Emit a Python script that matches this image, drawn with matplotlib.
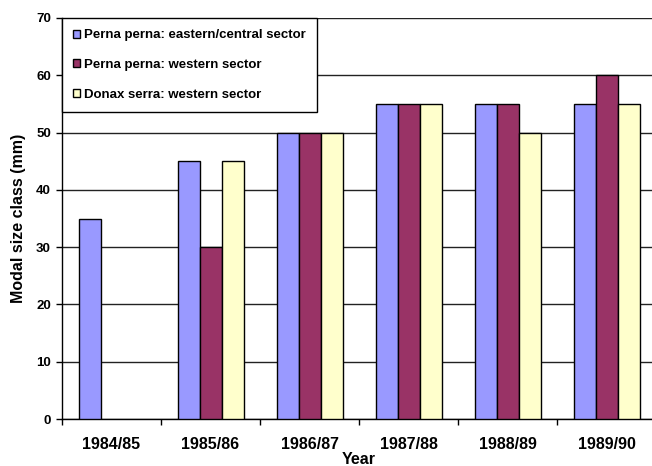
import numpy as np
import matplotlib.pyplot as plt

plt.rcParams['font.family'] = ['Liberation Sans', 'DejaVu Sans']
plt.rcParams['font.weight'] = 'bold'

years = ['1984/85', '1985/86', '1986/87', '1987/88', '1988/89', '1989/90']
# no samples for the western sector in 1984/85
perna_east = [35, 45, 50, 55, 55, 55]
perna_west = [np.nan, 30, 50, 55, 55, 60]
donax_west = [np.nan, 45, 50, 55, 50, 55]

labels = ['Perna perna: eastern/central sector',
          'Perna perna: western sector',
          'Donax serra: western sector']
colors = ['#9999FF', '#993366', '#FFFFCC']

fig = plt.figure(figsize=(6.52, 4.66), dpi=100)
ax = fig.add_axes([62 / 652, 1 - 419 / 466, 594 / 652, 401 / 466])

x = np.arange(len(years))
w = 2 / 9
for i, (vals, lab, col) in enumerate(zip([perna_east, perna_west, donax_west], labels, colors)):
    ax.bar(x + (i - 1) * w, vals, w, color=col, edgecolor='black', linewidth=1.0,
           label=lab, zorder=3)

ax.set_xlim(-0.5, len(years) - 0.5)
ax.set_ylim(0, 70)
ax.set_yticks(range(0, 71, 10))
ax.yaxis.grid(True, color='#222222', linewidth=1.0, zorder=0)
ax.set_xticks(x)
ax.set_xticklabels(years, fontsize=11.5, fontweight='bold')
ax.set_xticks(np.arange(len(years) + 1) - 0.5, minor=True)
ax.tick_params(axis='x', which='major', length=0, pad=13)
ax.tick_params(axis='x', which='minor', length=4, width=1)
ax.tick_params(axis='y', length=4, width=1, labelsize=9.5, pad=4)
for t in ax.get_yticklabels():
    t.set_fontweight('bold')

for s in ['top', 'right']:
    ax.spines[s].set_visible(False)
ax.spines['left'].set_linewidth(1.0)
ax.spines['bottom'].set_linewidth(1.0)

ax.set_xlabel('Year', fontsize=11.5, fontweight='bold', labelpad=0)
ax.set_ylabel('Modal size class (mm)', fontsize=11.5, fontweight='bold', labelpad=7)

leg = ax.legend(loc='upper left', bbox_to_anchor=(0, 1.0), borderaxespad=0,
                fontsize=9.5, frameon=True, fancybox=False, edgecolor='black',
                framealpha=1, handlelength=0.55, handleheight=0.55,
                handletextpad=0.3, labelspacing=1.35, borderpad=0.85)
leg.get_frame().set_linewidth(1.0)
leg.set_zorder(5)

fig.savefig('out.png', dpi=100)
